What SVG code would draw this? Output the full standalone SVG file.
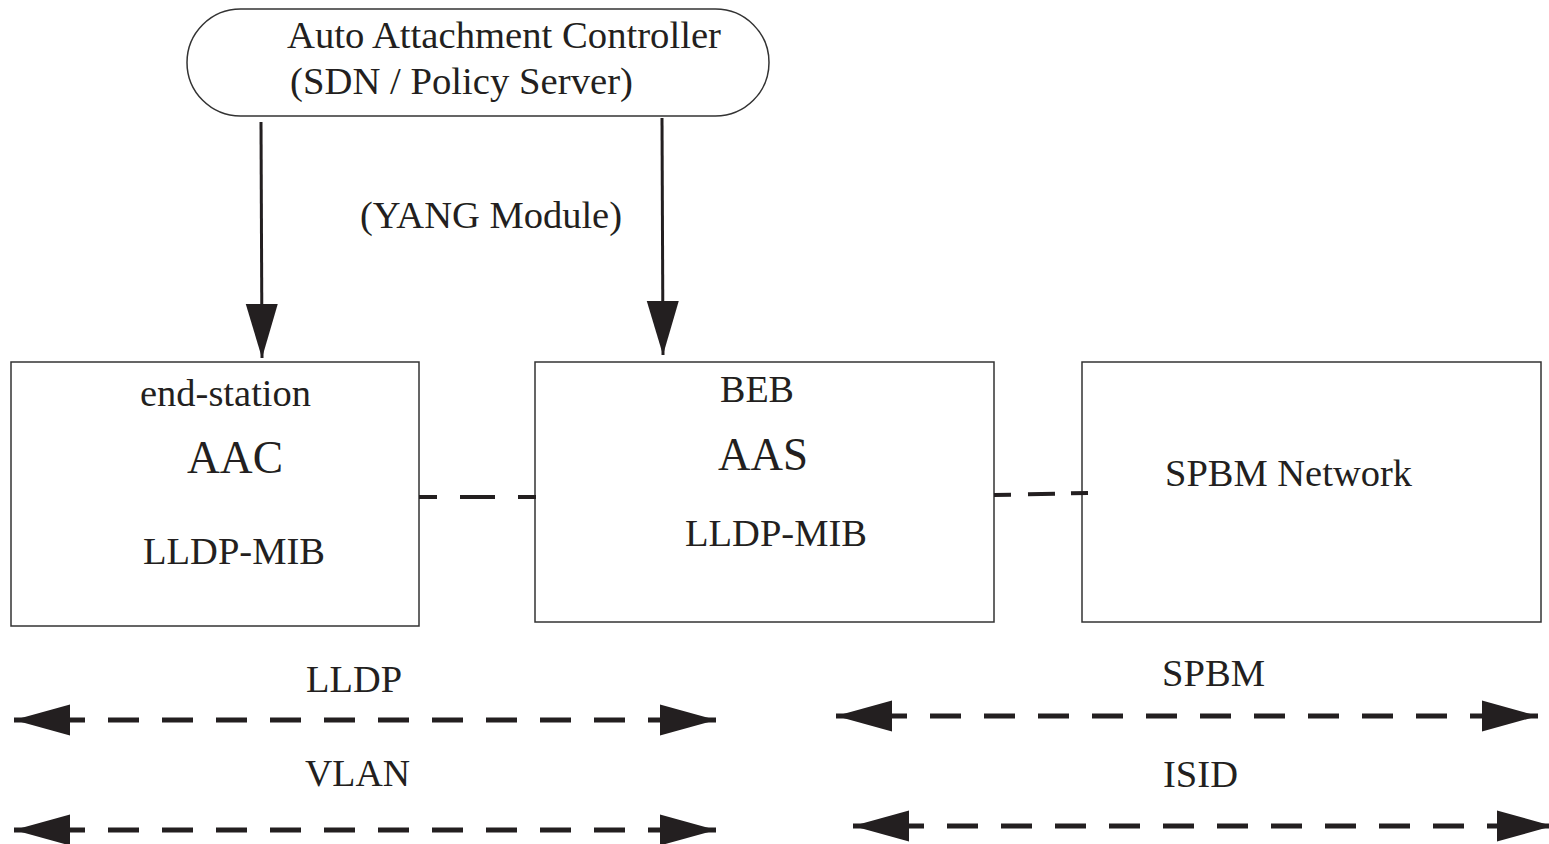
<svg xmlns="http://www.w3.org/2000/svg" width="1549" height="844" viewBox="0 0 1549 844">
<defs>
<style>
.t{font-family:"Liberation Serif","Times New Roman",serif;fill:#231f20;font-size:37px}
.big{font-size:46px}
.box{fill:#fff;stroke:#333;stroke-width:1.5}
.dn{stroke:#231f20;stroke-width:3;fill:none}
.dash{stroke:#231f20;stroke-width:5;fill:none;stroke-dasharray:31 23;stroke-dashoffset:14}
.link{stroke:#231f20;stroke-width:4;fill:none}
</style>
<marker id="down" markerUnits="userSpaceOnUse" viewBox="0 -17 54 34" refX="54" refY="0" markerWidth="54" markerHeight="34" orient="auto">
<path d="M0,-16 L54,0 L0,16 z" fill="#231f20"/>
</marker>
<marker id="hd" markerUnits="userSpaceOnUse" viewBox="0 -16 56 32" refX="56" refY="0" markerWidth="56" markerHeight="32" orient="auto-start-reverse">
<path d="M0,-15.5 L56,0 L0,15.5 z" fill="#231f20"/>
</marker>
</defs>
<rect width="1549" height="844" fill="#fff"/>

<g id="controller">
<rect class="box" x="187" y="9" width="582" height="107" rx="53.5" ry="53.5"/>
<text class="t" x="287" y="48" textLength="434" lengthAdjust="spacingAndGlyphs">Auto Attachment Controller</text>
<text class="t" x="290" y="94" textLength="343" lengthAdjust="spacingAndGlyphs">(SDN / Policy Server)</text>
</g>

<g id="yang">
<text class="t" x="360" y="228" textLength="262" lengthAdjust="spacingAndGlyphs">(YANG Module)</text>
</g>

<g id="end-station">
<rect class="box" x="11" y="362" width="408" height="264"/>
<text class="t" x="140" y="406" textLength="171" lengthAdjust="spacingAndGlyphs">end-station</text>
<text class="t big" x="187" y="473" textLength="96" lengthAdjust="spacingAndGlyphs">AAC</text>
<text class="t" x="143" y="564" textLength="182" lengthAdjust="spacingAndGlyphs">LLDP-MIB</text>
</g>

<g id="beb">
<rect class="box" x="535" y="362" width="459" height="260"/>
<text class="t" x="720" y="402" textLength="74" lengthAdjust="spacingAndGlyphs">BEB</text>
<text class="t big" x="718" y="470" textLength="90" lengthAdjust="spacingAndGlyphs">AAS</text>
<text class="t" x="685" y="546" textLength="182" lengthAdjust="spacingAndGlyphs">LLDP-MIB</text>
</g>

<g id="spbm-network">
<rect class="box" x="1082" y="362" width="459" height="260"/>
<text class="t" x="1165" y="486" textLength="247" lengthAdjust="spacingAndGlyphs">SPBM Network</text>
</g>

<g id="labels">
<text class="t" x="306" y="692" textLength="96" lengthAdjust="spacingAndGlyphs">LLDP</text>
<text class="t" x="305" y="786" textLength="105" lengthAdjust="spacingAndGlyphs">VLAN</text>
<text class="t" x="1162" y="686" textLength="103" lengthAdjust="spacingAndGlyphs">SPBM</text>
<text class="t" x="1163" y="787" textLength="75" lengthAdjust="spacingAndGlyphs">ISID</text>
</g>

<g id="connectors">
<line class="dn" x1="261" y1="122" x2="262" y2="358" marker-end="url(#down)"/>
<line class="dn" x1="662" y1="118" x2="663" y2="355" marker-end="url(#down)"/>
<line class="link" x1="419" y1="497" x2="536" y2="497" stroke-dasharray="35 23" stroke-dashoffset="17"/>
<line class="link" x1="994" y1="495" x2="1088" y2="493" stroke-dasharray="17 17 27 16 20"/>
<line class="dash" x1="14" y1="720" x2="716" y2="720" marker-start="url(#hd)" marker-end="url(#hd)"/>
<line class="dash" x1="14" y1="830" x2="716" y2="830" marker-start="url(#hd)" marker-end="url(#hd)"/>
<line class="dash" x1="836" y1="716" x2="1538" y2="716" marker-start="url(#hd)" marker-end="url(#hd)"/>
<line class="dash" x1="853" y1="826" x2="1553" y2="826" marker-start="url(#hd)" marker-end="url(#hd)"/>
</g>
</svg>
